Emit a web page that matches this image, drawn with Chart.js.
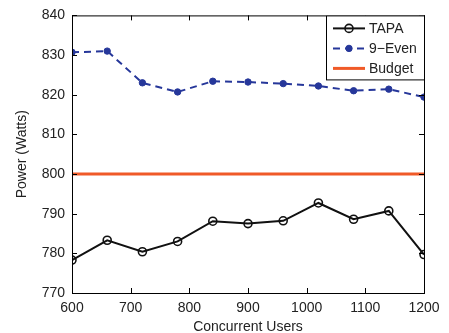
<!DOCTYPE html>
<html>
<head>
<meta charset="utf-8">
<script src="https://cdn.jsdelivr.net/npm/chart.js@4"></script>
<style>
  html, body { margin: 0; padding: 0; background: #fff; }
  #wrap { width: 449px; height: 333px; }
</style>
</head>
<body>
<div id="wrap"><canvas id="powerChart"></canvas></div>
<script>
// data
const users = [600, 660, 720, 780, 840, 900, 960, 1020, 1080, 1140, 1200];
const tapa = [778.3, 783.3, 780.4, 783.0, 788.1, 787.5, 788.2, 792.7, 788.6, 790.7, 779.7];
const nineEven = [830.7, 831.0, 823.0, 820.7, 823.4, 823.2, 822.8, 822.2, 821.0, 821.4, 819.4];
const budget = 800;
const seriesNames = ['TAPA', '9\u2212Even', 'Budget'];

const FONT = '"Liberation Sans", Arial, Helvetica, sans-serif';
const BLUE = '#26379a';
const ORANGE = '#f05a28';

function pts(ys) { return users.map((x, i) => ({ x: x, y: ys[i] })); }

// MATLAB style box, inward ticks and legend
const boxPlugin = {
    id: 'box',
    afterDraw(chart) {
        const ctx = chart.ctx;
        const a = chart.chartArea;
        const xs = chart.scales.x, ys = chart.scales.y;
        ctx.save();
        ctx.strokeStyle = '#000';
        ctx.lineWidth = 1;
        ctx.strokeRect(a.left + 0.5, a.top + 0.5, a.right - a.left, a.bottom - a.top);
        const tl = 5;
        ctx.beginPath();
        xs.ticks.forEach(t => {
            const px = Math.round(xs.getPixelForValue(t.value)) + 0.5;
            ctx.moveTo(px, a.bottom); ctx.lineTo(px, a.bottom - tl);
            ctx.moveTo(px, a.top); ctx.lineTo(px, a.top + tl);
        });
        ys.ticks.forEach(t => {
            const py = Math.round(ys.getPixelForValue(t.value)) + 0.5;
            ctx.moveTo(a.left, py); ctx.lineTo(a.left + tl, py);
            ctx.moveTo(a.right, py); ctx.lineTo(a.right - tl, py);
        });
        ctx.stroke();

        // legend
        const lx = 326, ly = a.top, lw = a.right - lx, lh = 64;
        ctx.fillStyle = '#fff';
        ctx.fillRect(lx, ly, lw, lh);
        ctx.strokeRect(lx + 0.5, ly + 0.5, lw, lh);
        ctx.font = '14px ' + FONT;
        ctx.textBaseline = 'middle';
        chart.data.datasets.forEach((ds, i) => {
            const y = ly + 13 + i * 20;
            const x0 = lx + 7, x1 = lx + 39;
            ctx.save();
            ctx.strokeStyle = ds.borderColor;
            ctx.lineWidth = ds.borderWidth;
            ctx.setLineDash(ds.borderDash || []);
            ctx.beginPath();
            ctx.moveTo(x0, y); ctx.lineTo(x1, y);
            ctx.stroke();
            ctx.setLineDash([]);
            if (ds.pointRadius > 0) {
                ctx.beginPath();
                ctx.arc((x0 + x1) / 2, y, ds.pointRadius, 0, Math.PI * 2);
                ctx.fillStyle = ds.pointBackgroundColor;
                ctx.fill();
                ctx.lineWidth = ds.pointBorderWidth;
                ctx.strokeStyle = ds.pointBorderColor;
                ctx.stroke();
            }
            ctx.restore();
            ctx.fillStyle = '#222';
            ctx.textAlign = 'left';
            ctx.fillText(ds.label, lx + 43, y + 1);
        });
        ctx.restore();
    }
};

const config = {
    type: 'line',
    data: {
        datasets: [
            {
                label: seriesNames[0],
                data: pts(tapa),
                borderColor: '#111',
                borderWidth: 2,
                pointRadius: 4,
                pointBackgroundColor: 'rgba(255,255,255,0)',
                pointBorderColor: '#111',
                pointBorderWidth: 1.6,
                tension: 0
            },
            {
                label: seriesNames[1],
                data: pts(nineEven),
                borderColor: BLUE,
                borderWidth: 2,
                borderDash: [7, 5],
                pointRadius: 3.2,
                pointBackgroundColor: BLUE,
                pointBorderColor: BLUE,
                pointBorderWidth: 1,
                tension: 0
            },
            {
                label: seriesNames[2],
                data: [{ x: users[0], y: budget }, { x: users[users.length - 1], y: budget }],
                borderColor: ORANGE,
                borderWidth: 3,
                pointRadius: 0,
                pointBackgroundColor: ORANGE,
                pointBorderColor: ORANGE,
                pointBorderWidth: 0,
                tension: 0
            }
        ]
    },
    options: {
        responsive: true,
        maintainAspectRatio: false,
        animation: false,
        layout: { padding: { top: 15, right: 25, left: 0, bottom: 0 } },
        plugins: {
            legend: { display: false },
            tooltip: { enabled: false }
        },
        scales: {
            x: {
                type: 'linear',
                min: 600,
                max: 1200,
                ticks: {
                    stepSize: 100, color: '#222', font: { family: FONT, size: 14 }, padding: 7, maxRotation: 0,
                    callback: v => String(v)
                },
                grid: { display: false, drawTicks: false },
                border: { display: false },
                title: { display: true, text: 'Concurrent Users', color: '#222', font: { family: FONT, size: 14 }, padding: { top: 0, bottom: -3 } },
                afterFit(scale) { scale.height = 40; }
            },
            y: {
                type: 'linear',
                min: 770,
                max: 840,
                ticks: { stepSize: 10, color: '#222', font: { family: FONT, size: 14 }, padding: 7 },
                grid: { display: false, drawTicks: false },
                border: { display: false },
                title: { display: true, text: 'Power (Watts)', color: '#222', font: { family: FONT, size: 14 }, padding: { top: 14, bottom: 0 } },
                afterFit(scale) { scale.width = 72; }
            }
        }
    },
    plugins: [boxPlugin]
};

new Chart(document.getElementById('powerChart').getContext('2d'), config);
</script>
</body>
</html>
